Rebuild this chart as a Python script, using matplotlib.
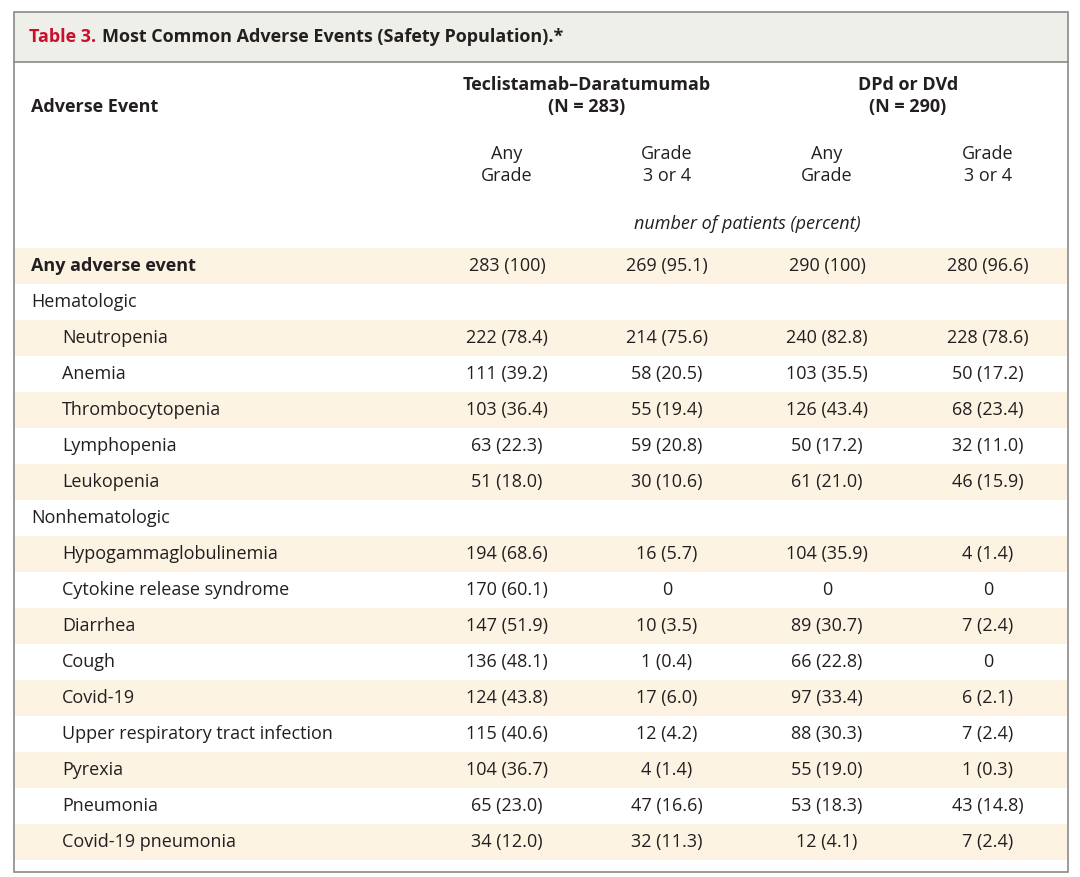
import matplotlib
matplotlib.use("Agg")
import matplotlib.pyplot as plt
from matplotlib.patches import Rectangle

events = ["Any adverse event", "Hematologic", "Neutropenia", "Anemia", "Thrombocytopenia",
          "Lymphopenia", "Leukopenia", "Nonhematologic", "Hypogammaglobulinemia",
          "Cytokine release syndrome", "Diarrhea", "Cough", "Covid-19",
          "Upper respiratory tract infection", "Pyrexia", "Pneumonia", "Covid-19 pneumonia"]
tec_any = ["283 (100)", "", "222 (78.4)", "111 (39.2)", "103 (36.4)", "63 (22.3)", "51 (18.0)", "",
           "194 (68.6)", "170 (60.1)", "147 (51.9)", "136 (48.1)", "124 (43.8)", "115 (40.6)",
           "104 (36.7)", "65 (23.0)", "34 (12.0)"]
tec_g34 = ["269 (95.1)", "", "214 (75.6)", "58 (20.5)", "55 (19.4)", "59 (20.8)", "30 (10.6)", "",
           "16 (5.7)", "0", "10 (3.5)", "1 (0.4)", "17 (6.0)", "12 (4.2)", "4 (1.4)",
           "47 (16.6)", "32 (11.3)"]
dpd_any = ["290 (100)", "", "240 (82.8)", "103 (35.5)", "126 (43.4)", "50 (17.2)", "61 (21.0)", "",
           "104 (35.9)", "0", "89 (30.7)", "66 (22.8)", "97 (33.4)", "88 (30.3)", "55 (19.0)",
           "53 (18.3)", "12 (4.1)"]
dpd_g34 = ["280 (96.6)", "", "228 (78.6)", "50 (17.2)", "68 (23.4)", "32 (11.0)", "46 (15.9)", "",
           "4 (1.4)", "0", "7 (2.4)", "0", "6 (2.1)", "7 (2.4)", "1 (0.3)", "43 (14.8)", "7 (2.4)"]
indent = [0, 0, 1, 1, 1, 1, 1, 0, 1, 1, 1, 1, 1, 1, 1, 1, 1]

W, H = 1080, 877
fig = plt.figure(figsize=(W/100, H/100), dpi=100)
ax = fig.add_axes([0, 0, 1, 1])
ax.set_xlim(0, W); ax.set_ylim(H, 0); ax.axis("off")
FONT = "Open Sans"
FS = 13
TC = "#231f20"
CREAM = "#fdf3e3"

ax.add_patch(Rectangle((14, 12), 1054, 50, facecolor="#efefe9", edgecolor="none"))
ax.add_patch(Rectangle((14, 12), 1054, 860, facecolor="none", edgecolor="#8a8a8a", lw=1.2, zorder=5))
ax.plot([14, 1068], [62, 62], color="#8a8a8a", lw=1.2)
t1 = ax.text(29, 37, "Table 3.", color="#c8102e", fontsize=FS, fontweight="bold", family=FONT, va="center")
fig.canvas.draw()
bb = t1.get_window_extent()
ax.text(29 + bb.width + 6, 37, "Most Common Adverse Events (Safety Population).*", color=TC,
        fontsize=FS, fontweight="bold", family=FONT, va="center")

cols = [507, 667, 827, 988]
ax.text(31, 107, "Adverse Event", fontsize=FS, fontweight="bold", family=FONT, color=TC, va="center")
ax.text(587, 96, "Teclistamab–Daratumumab\n(N = 283)", fontsize=FS, fontweight="bold", family=FONT,
        color=TC, va="center", ha="center", linespacing=1.3)
ax.text(908, 96, "DPd or DVd\n(N = 290)", fontsize=FS, fontweight="bold", family=FONT,
        color=TC, va="center", ha="center", linespacing=1.3)
for x, lab in zip(cols, ["Any\nGrade", "Grade\n3 or 4", "Any\nGrade", "Grade\n3 or 4"]):
    ax.text(x, 165, lab, fontsize=FS, family=FONT, color=TC, va="center", ha="center", linespacing=1.3)
ax.text(747, 224, "number of patients (percent)", fontsize=FS, style="italic", family=FONT,
        color=TC, va="center", ha="center")

y0, pitch = 266, 36.0
for i, ev in enumerate(events):
    yc = y0 + i * pitch
    if i % 2 == 0:
        ax.add_patch(Rectangle((15, yc - pitch/2), 1052, pitch, facecolor=CREAM, edgecolor="none"))
    ax.text(31 + 31 * indent[i], yc, ev, fontsize=FS, family=FONT, color=TC, va="center",
            fontweight="bold" if i == 0 else "normal")
    for x, v in zip(cols, [tec_any[i], tec_g34[i], dpd_any[i], dpd_g34[i]]):
        ax.text(x, yc, v, fontsize=FS, family=FONT, color=TC, va="center", ha="center")

fig.savefig("out.png", dpi=100)
